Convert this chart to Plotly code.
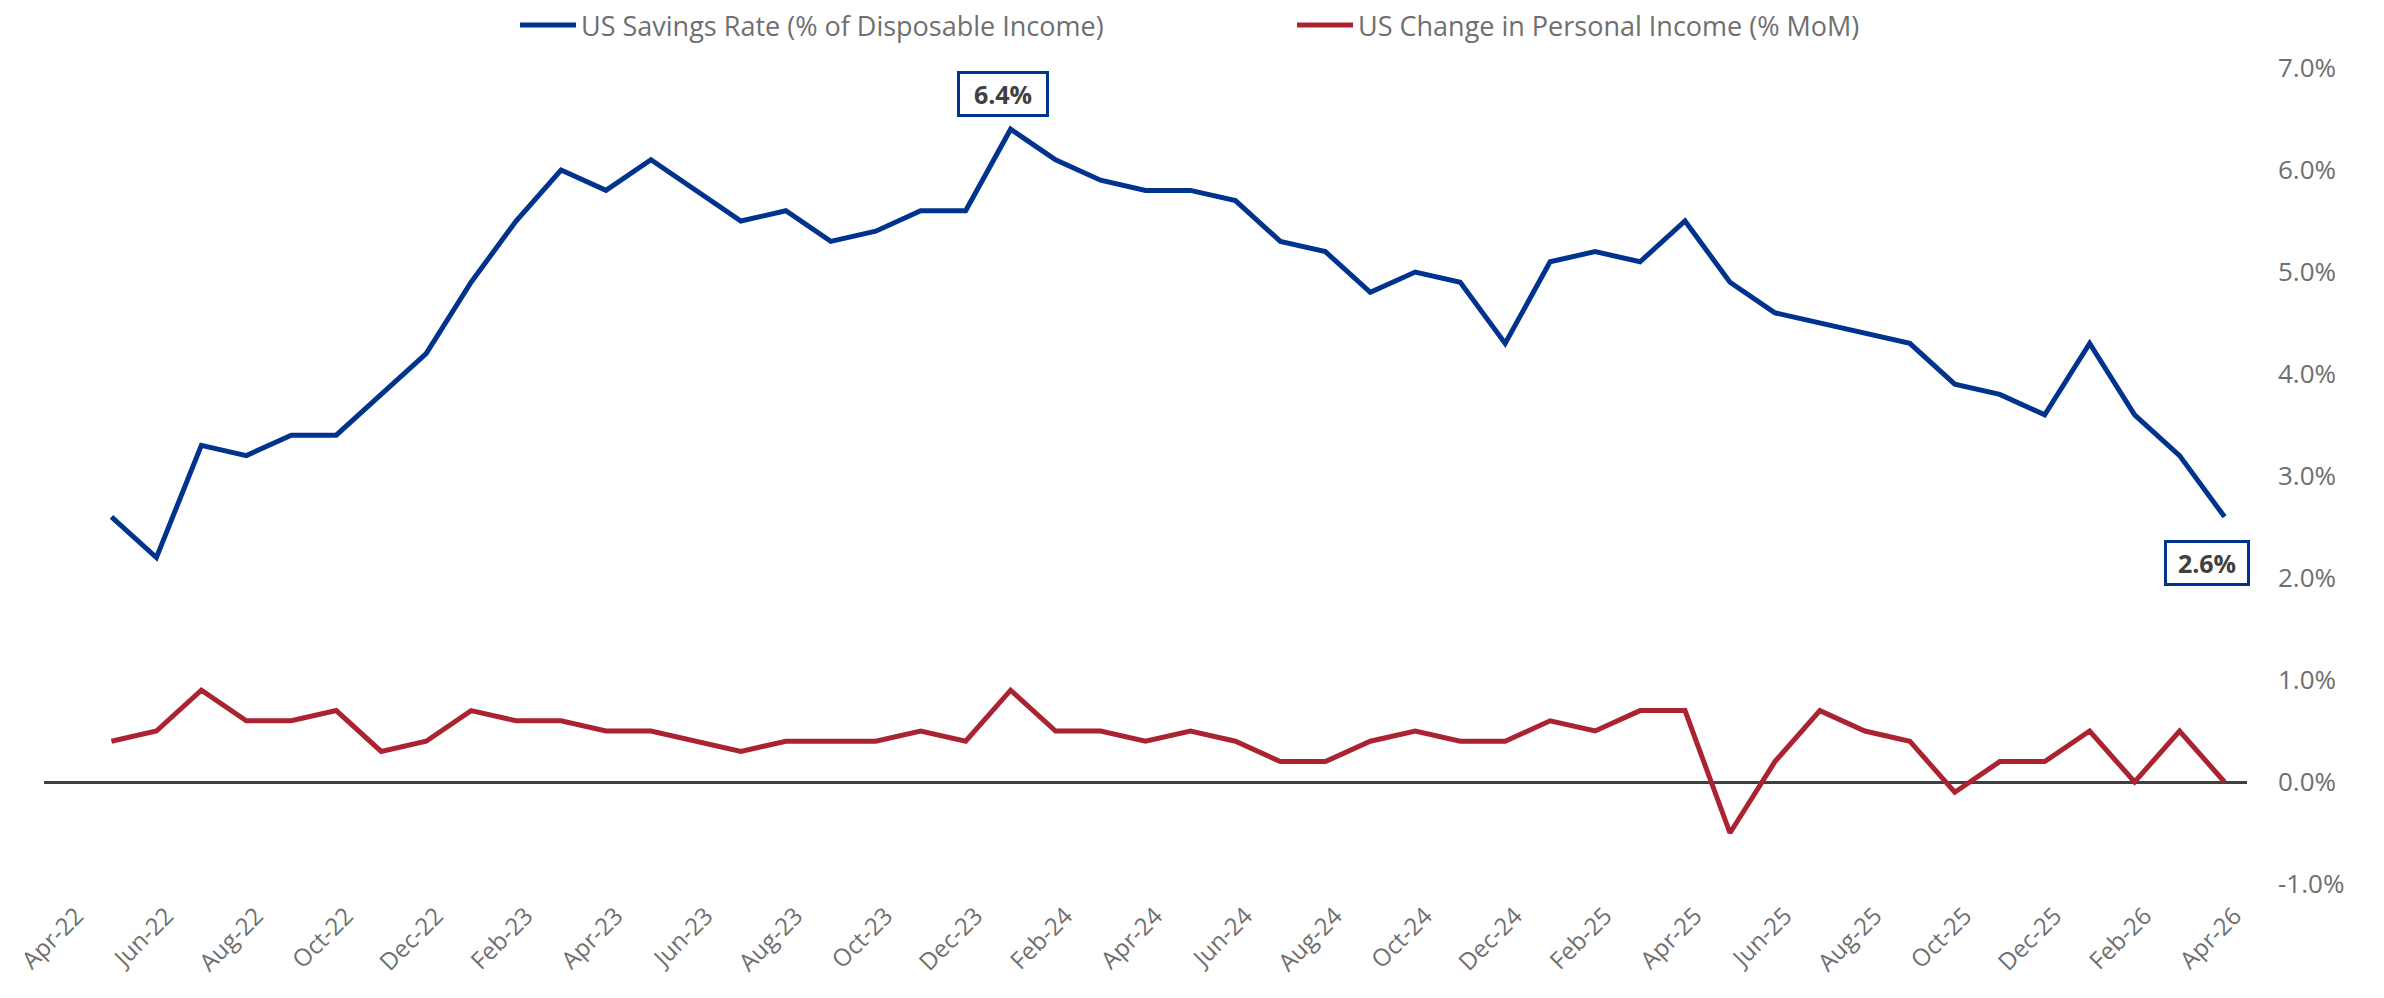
import plotly.graph_objects as go

# Monthly categories (Apr-22 .. Apr-26); Apr-22 has no data
months = [
    "Apr-22", "May-22", "Jun-22", "Jul-22", "Aug-22", "Sep-22", "Oct-22", "Nov-22", "Dec-22",
    "Jan-23", "Feb-23", "Mar-23", "Apr-23", "May-23", "Jun-23", "Jul-23", "Aug-23", "Sep-23",
    "Oct-23", "Nov-23", "Dec-23", "Jan-24", "Feb-24", "Mar-24", "Apr-24", "May-24", "Jun-24",
    "Jul-24", "Aug-24", "Sep-24", "Oct-24", "Nov-24", "Dec-24", "Jan-25", "Feb-25", "Mar-25",
    "Apr-25", "May-25", "Jun-25", "Jul-25", "Aug-25", "Sep-25", "Oct-25", "Nov-25", "Dec-25",
    "Jan-26", "Feb-26", "Mar-26", "Apr-26",
]

# US Savings Rate (% of Disposable Income)
savings_rate = [
    None, 2.6, 2.2, 3.3, 3.2, 3.4, 3.4, 3.8, 4.2,
    4.9, 5.5, 6.0, 5.8, 6.1, 5.8, 5.5, 5.6, 5.3,
    5.4, 5.6, 5.6, 6.4, 6.1, 5.9, 5.8, 5.8, 5.7,
    5.3, 5.2, 4.8, 5.0, 4.9, 4.3, 5.1, 5.2, 5.1,
    5.5, 4.9, 4.6, 4.5, 4.4, 4.3, 3.9, 3.8, 3.6,
    4.3, 3.6, 3.2, 2.6,
]

# US Change in Personal Income (% MoM)
income_change = [
    None, 0.4, 0.5, 0.9, 0.6, 0.6, 0.7, 0.3, 0.4,
    0.7, 0.6, 0.6, 0.5, 0.5, 0.4, 0.3, 0.4, 0.4,
    0.4, 0.5, 0.4, 0.9, 0.5, 0.5, 0.4, 0.5, 0.4,
    0.2, 0.2, 0.4, 0.5, 0.4, 0.4, 0.6, 0.5, 0.7,
    0.7, -0.5, 0.2, 0.7, 0.5, 0.4, -0.1, 0.2, 0.2,
    0.5, 0.0, 0.5, 0.0,
]

tick_labels = months[::2]
y_ticks = [-1, 0, 1, 2, 3, 4, 5, 6, 7]

BLUE = "#00338D"
RED = "#AB2330"
TXT = "#6F6F6F"
FONT = "Open Sans"

fig = go.Figure()
fig.add_trace(go.Scatter(
    x=months, y=savings_rate, mode="lines",
    name="US Savings Rate (% of Disposable Income)",
    line=dict(color=BLUE, width=5), connectgaps=False,
))
fig.add_trace(go.Scatter(
    x=months, y=income_change, mode="lines",
    name="US Change in Personal Income (% MoM)",
    line=dict(color=RED, width=5), connectgaps=False,
))

# Peak and last-value annotations
vals = [v for v in savings_rate if v is not None]
peak_val = max(vals)
peak_idx = savings_rate.index(peak_val)
last_idx = len(savings_rate) - 1
fig.add_annotation(
    x=months[peak_idx], y=peak_val, text=f"<b>{peak_val:.1f}%</b>",
    showarrow=False, yshift=35, xshift=-8, width=86, height=40,
    font=dict(family=FONT, size=25, color="#404040"),
    bordercolor=BLUE, borderwidth=3, borderpad=0, bgcolor="white",
)
fig.add_annotation(
    x=months[last_idx], y=savings_rate[last_idx], text=f"<b>{savings_rate[last_idx]:.1f}%</b>",
    showarrow=False, yshift=-46, xshift=-18, width=80, height=40,
    font=dict(family=FONT, size=25, color="#404040"),
    bordercolor=BLUE, borderwidth=3, borderpad=0, bgcolor="white",
)

# page body adds an 8px offset; margins compensate for it
fig.update_layout(
    width=2384, height=998,
    paper_bgcolor="white", plot_bgcolor="white",
    margin=dict(l=36, r=145, t=60, b=122, autoexpand=False),
    font=dict(family=FONT, size=26, color=TXT),
    showlegend=True,
    legend=dict(
        orientation="h", x=0.2138, xanchor="left", y=1.052, yanchor="middle",
        font=dict(family=FONT, size=27, color=TXT),
        bgcolor="rgba(0,0,0,0)", itemwidth=56, entrywidth=706,
    ),
    xaxis=dict(
        type="category", categoryorder="array", categoryarray=months,
        range=[-0.5, len(months) - 0.5],
        tickmode="array", tickvals=tick_labels, ticktext=tick_labels,
        tickangle=-45, showgrid=False, showline=False, zeroline=False,
        ticks="", tickfont=dict(family=FONT, size=24, color=TXT),
        ticklabelstandoff=12, ticklabelshift=10,
    ),
    yaxis=dict(
        side="right", range=[-1, 7], tickmode="array", tickvals=y_ticks,
        ticktext=[f"{v:.1f}%" for v in y_ticks],
        showgrid=False, showline=False, ticks="",
        zeroline=True, zerolinecolor="#404040", zerolinewidth=3,
        tickfont=dict(family=FONT, size=26, color=TXT),
        ticklabelstandoff=30,
    ),
)

fig.write_html("out.html")
